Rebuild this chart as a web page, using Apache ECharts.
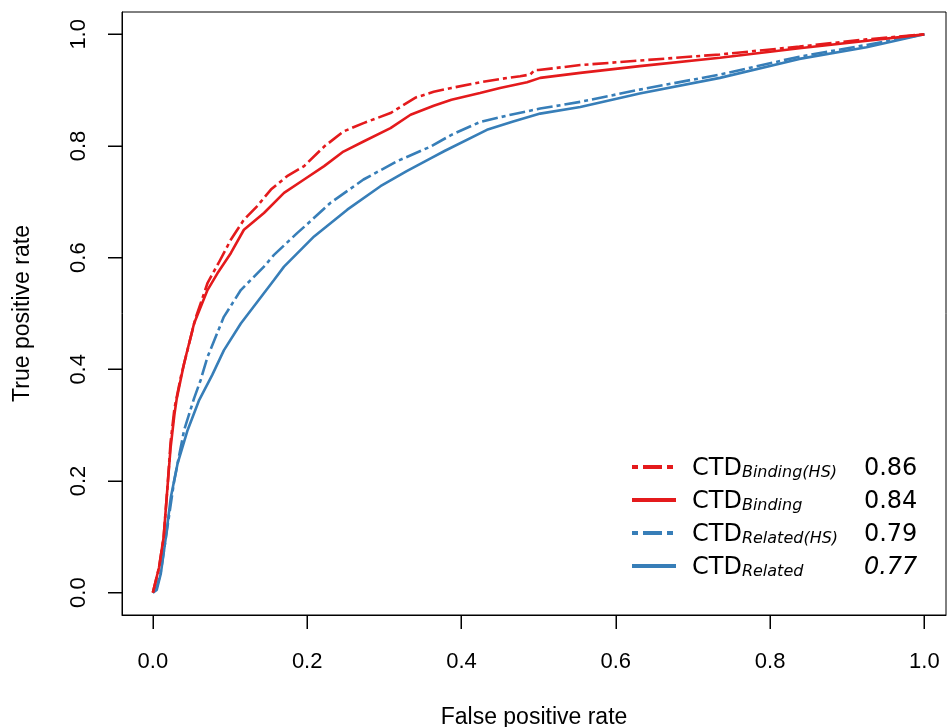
<!DOCTYPE html>
<html>
<head>
<meta charset="utf-8">
<script src="https://cdn.jsdelivr.net/npm/echarts@6/dist/echarts.min.js"></script>
<style>
html,body{margin:0;padding:0;background:#fff;}
#chart{width:947px;height:727px;}
</style>
</head>
<body>
<div id="chart"></div>
<script>
// ---- data ----
const seriesNames = ['CTD Binding(HS)', 'CTD Binding', 'CTD Related(HS)', 'CTD Related'];
const subscripts = ['Binding(HS)', 'Binding', 'Related(HS)', 'Related'];
const aucValues = ['0.86', '0.84', '0.79', '0.77'];
const tickValues = [0, 0.2, 0.4, 0.6, 0.8, 1.0];

const bindingHS = [
  [0,0],[0.008,0.045],[0.014,0.10],[0.019,0.19],[0.023,0.27],[0.028,0.33],[0.036,0.385],
  [0.045,0.435],[0.055,0.49],[0.071,0.555],[0.085,0.59],[0.101,0.632],[0.118,0.668],
  [0.135,0.692],[0.153,0.722],[0.174,0.746],[0.196,0.764],[0.222,0.799],[0.247,0.826],
  [0.273,0.841],[0.308,0.859],[0.341,0.887],[0.364,0.897],[0.387,0.904],[0.424,0.914],
  [0.450,0.920],[0.476,0.925],[0.489,0.928],[0.495,0.936],[0.500,0.936],[0.554,0.945],
  [0.631,0.953],[0.735,0.964],[0.838,0.978],[0.925,0.991],[1,1]
];
const binding = [
  [0,0],[0.008,0.045],[0.014,0.10],[0.019,0.19],[0.023,0.26],[0.028,0.32],[0.031,0.348],
  [0.0405,0.411],[0.0534,0.482],[0.0708,0.542],[0.0837,0.572],[0.101,0.608],[0.118,0.650],
  [0.144,0.680],[0.170,0.716],[0.196,0.740],[0.222,0.764],[0.247,0.790],[0.273,0.808],
  [0.308,0.832],[0.334,0.856],[0.364,0.872],[0.387,0.883],[0.424,0.895],[0.450,0.904],
  [0.485,0.914],[0.502,0.922],[0.554,0.931],[0.631,0.943],[0.735,0.958],[0.838,0.975],[1,1]
];
const relatedHS = [
  [0,0],[0.005,0.01],[0.010,0.035],[0.017,0.10],[0.0276,0.20],[0.0405,0.291],[0.0534,0.348],
  [0.062,0.381],[0.0708,0.422],[0.092,0.494],[0.114,0.542],[0.144,0.584],[0.157,0.605],
  [0.187,0.644],[0.200,0.660],[0.230,0.698],[0.273,0.740],[0.317,0.773],[0.360,0.799],
  [0.387,0.820],[0.424,0.843],[0.467,0.857],[0.502,0.867],[0.554,0.879],[0.631,0.901],
  [0.735,0.928],[0.838,0.960],[0.925,0.981],[1,1]
];
const related = [
  [0,0],[0.005,0.005],[0.0103,0.034],[0.0168,0.099],[0.0233,0.171],[0.032,0.231],[0.045,0.291],
  [0.060,0.345],[0.077,0.390],[0.092,0.434],[0.114,0.482],[0.157,0.560],[0.170,0.584],
  [0.209,0.638],[0.252,0.686],[0.295,0.728],[0.329,0.755],[0.360,0.778],[0.378,0.791],
  [0.433,0.829],[0.467,0.844],[0.502,0.858],[0.554,0.870],[0.631,0.894],[0.735,0.922],
  [0.838,0.956],[0.925,0.977],[1,1]
];
const seriesData = [bindingHS, binding, relatedHS, related];

// ---- styles ----
const RED = '#E41A1C', BLUE = '#377EB8';
const colors = [RED, RED, BLUE, BLUE];
const dashed = [true, false, true, false];
const axisFont = 'Liberation Sans, Arial, sans-serif';
const legFont = 'DejaVu Sans, sans-serif';
const TICK_LEN = 14;
const X_MIN = -0.04, X_MAX = 1.028, Y_MIN = -0.04, Y_MAX = 1.04;

const chart = echarts.init(document.getElementById('chart'), null, {renderer: 'canvas'});

const series = seriesData.map((d, i) => ({
  name: seriesNames[i],
  type: 'line',
  data: d,
  symbol: 'none',
  showSymbol: false,
  smooth: false,
  animation: false,
  z: 10 - i,
  lineStyle: {
    color: colors[i],
    width: 2.6,
    type: dashed[i] ? [16, 4, 4, 4] : 'solid'
  },
  itemStyle: {color: colors[i]}
}));

function axisCommon() {
  return {
    axisLine: {show: true, onZero: false, lineStyle: {color: '#000', width: 1}},
    splitLine: {show: false},
    axisTick: {show: true, inside: false, length: TICK_LEN, customValues: tickValues.slice(),
      lineStyle: {color: '#000', width: 1, opacity: 1}}
  };
}

const option = {
  animation: false,
  backgroundColor: '#fff',
  grid: {
    left: 122, top: 12, right: 1, bottom: 112,
    show: true, borderColor: '#000', borderWidth: 1, backgroundColor: 'transparent',
    containLabel: false, outerBoundsMode: 'none'
  },
  xAxis: Object.assign({
    type: 'value', min: X_MIN, max: X_MAX,
    name: 'False positive rate', nameLocation: 'middle', nameGap: 91,
    nameTextStyle: {fontFamily: axisFont, fontSize: 23, color: '#000'},
    axisLabel: {customValues: tickValues, margin: 36, fontFamily: axisFont, fontSize: 22, color: '#000',
      formatter: v => v.toFixed(1)}
  }, axisCommon()),
  yAxis: Object.assign({
    type: 'value', min: Y_MIN, max: Y_MAX,
    name: 'True positive rate', nameLocation: 'middle', nameGap: 88, nameRotate: 90,
    nameTextStyle: {fontFamily: axisFont, fontSize: 23, color: '#000'},
    axisLabel: {customValues: tickValues, margin: 32, rotate: 90, fontFamily: axisFont, fontSize: 22, color: '#000',
      formatter: v => v.toFixed(1)}
  }, axisCommon()),
  legend: {
    orient: 'vertical', left: 630, top: 457, padding: 0,
    itemWidth: 44, itemHeight: 14, itemGap: 9,
    selectedMode: false,
    itemStyle: {opacity: 0, borderWidth: 0},
    data: seriesNames.map((n, i) => ({
      name: n,
      itemStyle: {opacity: 0, borderWidth: 0},
      lineStyle: {type: dashed[i] ? [6, 5, 19, 5] : 'solid', width: 4, color: colors[i]}
    })),
    formatter: function (name) {
      const i = seriesNames.indexOf(name);
      const vs = i === 3 ? 'd' : 'c';
      return '{a|CTD}{b|' + subscripts[i] + '}{' + vs + '|' + aucValues[i] + '}';
    },
    textStyle: {
      color: '#000',
      rich: {
        a: {fontFamily: legFont, fontSize: 24, color: '#000', padding: [0, 0, 0, 11], verticalAlign: 'bottom', lineHeight: 28},
        b: {fontFamily: legFont, fontSize: 16, fontStyle: 'italic', color: '#000', width: 122, verticalAlign: 'bottom', lineHeight: 28},
        c: {fontFamily: legFont, fontSize: 24, color: '#000', verticalAlign: 'bottom', lineHeight: 28},
        d: {fontFamily: legFont, fontSize: 24, fontStyle: 'italic', color: '#000', verticalAlign: 'bottom', lineHeight: 28}
      }
    }
  },
  series: series
};
chart.setOption(option);

// axis ticks outside the box, placed through the grid's own scales
const tickGraphics = [];
tickValues.forEach(v => {
  const pb = chart.convertToPixel({gridIndex: 0}, [v, Y_MIN]);
  const pl = chart.convertToPixel({gridIndex: 0}, [X_MIN, v]);
  if (pb && isFinite(pb[0]) && isFinite(pb[1])) {
    tickGraphics.push({type: 'rect', silent: true, z: 100,
      shape: {x: Math.round(pb[0]) - 0.5, y: pb[1], width: 1, height: TICK_LEN},
      style: {fill: '#000'}});
  }
  if (pl && isFinite(pl[0]) && isFinite(pl[1])) {
    tickGraphics.push({type: 'rect', silent: true, z: 100,
      shape: {x: pl[0] - TICK_LEN, y: Math.round(pl[1]) - 0.5, width: TICK_LEN, height: 1},
      style: {fill: '#000'}});
  }
});
chart.setOption({graphic: {elements: tickGraphics}});
</script>
</body>
</html>
